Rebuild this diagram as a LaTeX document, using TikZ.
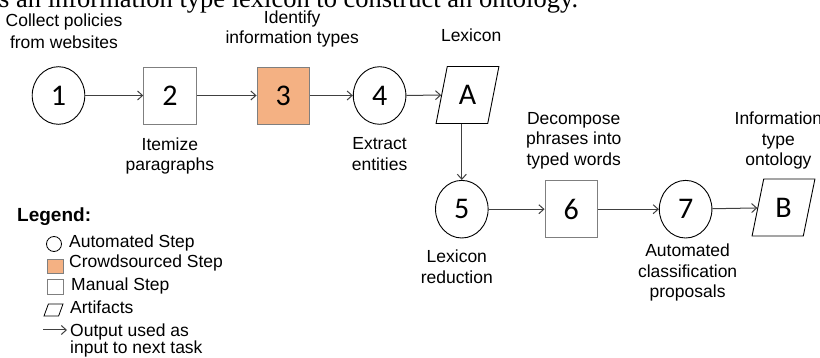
\documentclass[tikz,border=0pt]{standalone}
\usepackage{fontspec}
\setmainfont{Liberation Sans}
\newfontfamily\digitos{Carlito}
\newfontfamily\serifa{Liberation Serif}
\usetikzlibrary{positioning,shapes.geometric,arrows.meta}
\definecolor{laranja}{HTML}{F4B183}
\definecolor{borda}{HTML}{7F7F7F}
\definecolor{linha}{HTML}{404040}
\tikzstyle{automatico} = [ellipse, minimum width=52.6pt, minimum height=57.6pt, inner sep=0pt, draw=black, line width=0.9pt, font=\digitos\fontsize{30}{30}\selectfont]
\tikzstyle{manual} = [rectangle, minimum width=52.4pt, minimum height=57pt, inner sep=0pt, draw=borda, line width=0.9pt, font=\digitos\fontsize{30}{30}\selectfont]
\tikzstyle{crowd} = [manual, fill=laranja]
\tikzstyle{artefato} = [trapezium, trapezium left angle=76, trapezium right angle=104, trapezium stretches=true, minimum width=63pt, minimum height=57pt, inner sep=0pt, draw=black, line width=0.9pt, font=\digitos\fontsize{30}{30}\selectfont]
\tikzstyle{rotulo} = [inner sep=0pt, align=center, font=\fontsize{17.5}{20.5}\selectfont]
\tikzstyle{legenda} = [inner sep=0pt, anchor=base west, align=left, font=\fontsize{17.5}{17}\selectfont]
\tikzstyle{seta} = [line width=1pt, draw=linha, ->, >={Straight Barb[length=5pt,width=9pt]}]

\begin{document}
\begin{tikzpicture}[x=1pt, y=-1pt]
        \useasboundingbox (0,0) rectangle (820,358);
        \clip (0,0) rectangle (820,358);
        % Texto cortado no topo
        \node (titulo) [inner sep=0pt, anchor=base west, font=\serifa\fontsize{26.5}{26.5}\selectfont] at (-1,7.5) {s an information type lexicon to construct an ontology.};
        % Primeira linha
        \node (p1) [automatico] at (58.5,95.5) {1};
        \node (p2) [manual, right=58pt of p1] {2};
        \node (p3) [crowd, right=60pt of p2] {3};
        \node (p4) [automatico, right=43pt of p3] {4};
        \node (pA) [artefato] at (467.5,95) {A};
        % Segunda linha
        \node (p5) [automatico, below=56pt of pA.bottom side] {5};
        \node (p6) [manual, right=56pt of p5] {6};
        \node (p7) [automatico, right=61pt of p6] {7};
        \node (pB) [artefato] at (783.5,207.5) {B};
        % Conexões
        \draw [seta] (p1) -- (p2);
        \draw [seta] (p2) -- (p3);
        \draw [seta] (p3) -- (p4);
        \draw [seta] (p4) -- (pA);
        \draw [seta] (pA.bottom side) -- (p5);
        \draw [seta] (p5) -- (p6);
        \draw [seta] (p6) -- (p7);
        \draw [seta] (p7) -- (pB);
        % Rótulos das etapas
        \node (r1) [rotulo, font=\fontsize{17.5}{22}\selectfont, above=17pt of p1, xshift=5.5pt] {Collect policies\\from websites};
        \node (r2) [rotulo, below=12.7pt of p2] {Itemize\\paragraphs};
        \node (r3) [rotulo, above=19pt of p3, xshift=9pt] {Identify\\information types};
        \node (r4) [rotulo, below=12.7pt of p4] {Extract\\entities};
        \node (rA) [rotulo, above=24pt of pA.top side, xshift=-2pt] {Lexicon};
        \node (r5) [rotulo, below=11.3pt of p5, xshift=-5pt] {Lexicon\\reduction};
        \node (r6) [rotulo, above=11pt of p6, xshift=2.5pt] {Decompose\\phrases into\\typed words};
        \node (r7) [rotulo, below=5.3pt of p7, xshift=2pt] {Automated\\classification\\proposals};
        \node (rB) [rotulo, above=9pt of pB.top side, xshift=-11pt] {Information\\type\\ontology};
        % Legenda
        \node (leg) [legenda, font=\bfseries\fontsize{19}{19}\selectfont] at (17,222) {Legend:};
        \node (l1) [ellipse, draw=black, line width=0.8pt, minimum width=15pt, minimum height=15pt, inner sep=0pt] at (54,244) {};
        \node (l2) [rectangle, draw=borda, fill=laranja, line width=0.8pt, minimum width=16pt, minimum height=14pt, inner sep=0pt] at (55,266) {};
        \node (l3) [rectangle, draw=borda, line width=0.8pt, minimum width=16pt, minimum height=15pt, inner sep=0pt] at (55,286.5) {};
        \node (l4) [trapezium, trapezium left angle=68, trapezium right angle=112, trapezium stretches=true, draw=black, line width=0.8pt, minimum width=19pt, minimum height=12pt, inner sep=0pt, font=\fontsize{6}{6}\selectfont] at (53.5,310) {\phantom{x}};
        \coordinate (l5a) at (43,330);
        \coordinate (l5b) at (67,330);
        \draw [seta] (l5a) -- (l5b);
        \node (t1) [legenda] at (69,247.5) {Automated Step};
        \node (t2) [legenda] at (69,267.5) {Crowdsourced Step};
        \node (t3) [legenda] at (71,290.5) {Manual Step};
        \node (t4) [legenda] at (70,313.5) {Artifacts};
        \node (t5) [legenda] at (70,353) {Output used as\\input to next task};
    \end{tikzpicture}
\end{document}
